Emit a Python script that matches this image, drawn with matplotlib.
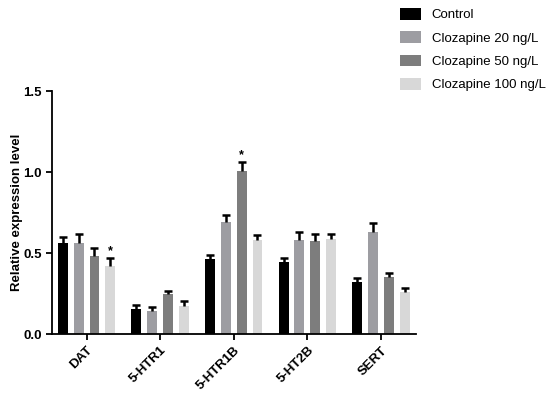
import numpy as np
import matplotlib.pyplot as plt

plt.rcParams['font.family'] = ['Liberation Sans', 'DejaVu Sans']

genes = ["DAT", "5-HTR1", "5-HTR1B", "5-HT2B", "SERT"]
groups = ["Control", "Clozapine 20 ng/L", "Clozapine 50 ng/L", "Clozapine 100 ng/L"]
colors = ["#000000", "#9d9da2", "#7d7d7d", "#d8d8d8"]

control = [0.564, 0.156, 0.465, 0.443, 0.321]
cloz20 = [0.564, 0.140, 0.690, 0.582, 0.628]
cloz50 = [0.480, 0.247, 1.008, 0.572, 0.352]
cloz100 = [0.420, 0.173, 0.580, 0.586, 0.261]

control_err = [0.036, 0.024, 0.022, 0.028, 0.027]
cloz20_err = [0.056, 0.030, 0.043, 0.048, 0.055]
cloz50_err = [0.050, 0.020, 0.054, 0.043, 0.025]
cloz100_err = [0.050, 0.032, 0.031, 0.033, 0.021]

# significance marks: (gene index, group index)
stars = [(0, 3), (2, 2)]

values = [control, cloz20, cloz50, cloz100]
errors = [control_err, cloz20_err, cloz50_err, cloz100_err]

fig = plt.figure(figsize=(5.5, 3.93), dpi=100)
ax = fig.add_axes([0.0945, 0.150, 0.661, 0.618])

x = np.arange(len(genes))
step = 0.215
width = 0.135
for i, (vals, errs) in enumerate(zip(values, errors)):
    pos = x + (i - 1.5) * step
    ax.bar(pos, vals, width, color=colors[i], label=groups[i], zorder=2)
    eb = ax.errorbar(pos, vals, yerr=[np.zeros(len(errs)), errs], fmt="none",
                     ecolor="black", elinewidth=1.8, capsize=3.2, capthick=1.8, zorder=3)
    # only the upper cap is drawn
    eb[1][0].set_visible(False)

for g, s in stars:
    xp = x[g] + (s - 1.5) * step
    top = values[s][g] + errors[s][g]
    ax.text(xp, top + 0.005, "*", ha="center", va="bottom", fontsize=9, fontweight="bold")

ax.set_xlim(-0.47, 4.47)
ax.set_ylim(0, 1.5)
ax.set_yticks([0, 0.5, 1.0, 1.5])
ax.set_yticklabels(["0.0", "0.5", "1.0", "1.5"], fontsize=9.5, fontweight="bold")
ax.set_xticks(x)
ax.set_xticklabels(genes, rotation=45, ha="right", rotation_mode="anchor",
                   fontsize=9.5, fontweight="bold")
ax.tick_params(axis="both", width=1.3, length=4)
ax.set_ylabel("Relative expression level", fontsize=9.5, fontweight="bold", labelpad=0)
for side in ["top", "right"]:
    ax.spines[side].set_visible(False)
for side in ["left", "bottom"]:
    ax.spines[side].set_linewidth(1.3)

fig.legend(loc="upper left", bbox_to_anchor=(0.706, 1.01), frameon=False,
           fontsize=9.5, handlelength=1.6, handleheight=1.0, labelspacing=0.75)

fig.savefig("out.png", dpi=100)
